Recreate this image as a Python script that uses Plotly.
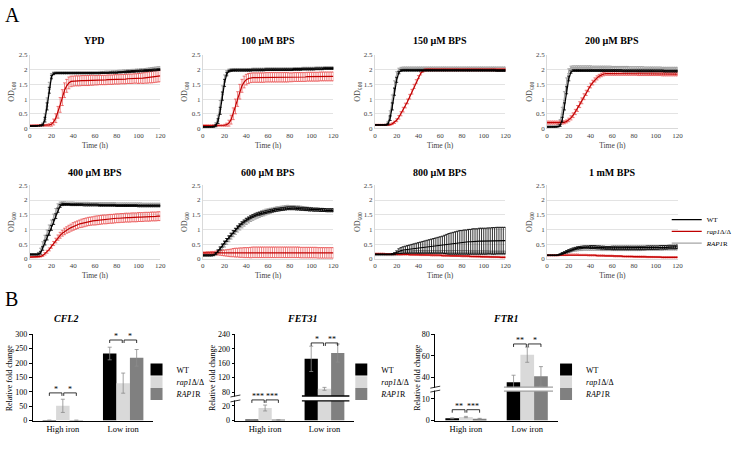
import plotly.graph_objects as go

W, H = 739, 450
FONT = "Liberation Serif"

# ---------------- Growth curves (OD600 vs time) ----------------
T = [0, 2, 4, 6, 8, 10, 12, 14, 16, 18,
     20, 22, 24, 26, 28, 30, 32, 34, 36, 38,
     40, 42, 44, 46, 48, 50, 52, 54, 56, 58,
     60, 62, 64, 66, 68, 70, 72, 74, 76, 78,
     80, 82, 84, 86, 88, 90, 92, 94, 96, 98,
     100, 102, 104, 106, 108, 110, 112, 114, 116, 118,
     120]

PANEL_TITLES = ["YPD", "100 µM BPS", "150 µM BPS", "200 µM BPS",
                "400 µM BPS", "600 µM BPS", "800 µM BPS", "1 mM BPS"]
SERIES_NAMES = ["WT", "<i>rap1</i>Δ/Δ", "<i>RAP1</i>R"]

# YPD
YPD_WT = [0.08,0.08,0.08,0.08,0.09,0.10,0.12,0.30,0.75,1.30,
          1.75,1.86,1.88,1.88,1.88,1.88,1.88,1.88,1.88,1.88,
          1.88,1.88,1.88,1.88,1.88,1.88,1.88,1.88,1.88,1.88,
          1.88,1.88,1.88,1.89,1.89,1.89,1.89,1.90,1.90,1.90,
          1.90,1.91,1.91,1.92,1.92,1.93,1.93,1.94,1.94,1.95,
          1.95,1.96,1.96,1.97,1.97,1.98,1.98,1.99,1.99,2.00,
          2.00]
YPD_WT_SD = [0.01,0.01,0.01,0.01,0.01,0.02,0.03,0.08,0.12,0.10,
             0.06,0.03,0.02,0.02,0.02,0.02,0.02,0.02,0.02,0.02,
             0.02,0.02,0.02,0.02,0.02,0.02,0.02,0.02,0.02,0.02,
             0.02,0.02,0.02,0.02,0.02,0.02,0.02,0.02,0.02,0.02,
             0.02,0.02,0.02,0.02,0.03,0.03,0.03,0.03,0.03,0.03,
             0.03,0.03,0.03,0.03,0.03,0.03,0.03,0.03,0.03,0.03,
             0.03]
YPD_RAP1D = [0.10,0.10,0.10,0.10,0.10,0.10,0.10,0.10,0.11,0.12,
             0.14,0.22,0.35,0.55,0.80,1.05,1.30,1.45,1.55,1.60,
             1.61,1.62,1.62,1.62,1.63,1.63,1.63,1.63,1.64,1.64,
             1.64,1.64,1.65,1.65,1.65,1.65,1.66,1.66,1.66,1.67,
             1.67,1.67,1.68,1.68,1.68,1.69,1.69,1.69,1.70,1.70,
             1.70,1.71,1.71,1.72,1.73,1.74,1.75,1.76,1.77,1.78,
             1.79]
YPD_RAP1D_SD = [0.02,0.02,0.02,0.02,0.02,0.02,0.02,0.02,0.03,0.04,
                0.06,0.10,0.15,0.20,0.25,0.27,0.25,0.22,0.20,0.18,
                0.17,0.17,0.17,0.17,0.17,0.17,0.17,0.17,0.17,0.17,
                0.16,0.16,0.16,0.16,0.16,0.16,0.16,0.16,0.16,0.16,
                0.16,0.16,0.16,0.16,0.16,0.16,0.16,0.16,0.16,0.16,
                0.17,0.17,0.18,0.18,0.19,0.19,0.20,0.20,0.20,0.20,
                0.20]
YPD_RAP1R = [0.08,0.08,0.08,0.08,0.09,0.11,0.15,0.40,0.90,1.45,
             1.80,1.88,1.90,1.90,1.90,1.90,1.90,1.90,1.90,1.90,
             1.90,1.90,1.90,1.90,1.90,1.90,1.90,1.90,1.90,1.90,
             1.90,1.90,1.91,1.91,1.91,1.92,1.92,1.92,1.93,1.93,
             1.93,1.94,1.94,1.95,1.95,1.96,1.96,1.97,1.97,1.98,
             1.98,1.99,1.99,2.00,2.00,2.01,2.02,2.03,2.04,2.05,
             2.05]
YPD_RAP1R_SD = [0.01,0.01,0.01,0.01,0.01,0.02,0.04,0.10,0.14,0.12,
                0.07,0.04,0.03,0.03,0.03,0.03,0.03,0.03,0.03,0.03,
                0.03,0.03,0.03,0.03,0.03,0.03,0.03,0.03,0.03,0.03,
                0.03,0.03,0.03,0.03,0.03,0.03,0.03,0.03,0.03,0.03,
                0.04,0.04,0.04,0.04,0.04,0.04,0.04,0.04,0.04,0.04,
                0.04,0.04,0.04,0.04,0.05,0.05,0.05,0.05,0.05,0.05,
                0.05]

# 100 uM BPS
B100_WT = [0.05,0.05,0.05,0.05,0.05,0.06,0.10,0.25,0.60,1.10,
           1.55,1.85,1.95,1.97,1.98,1.98,1.98,1.98,1.98,1.98,
           1.98,1.98,1.98,1.99,1.99,1.99,1.99,1.99,1.99,2.00,
           2.00,2.00,2.00,2.00,2.00,2.00,2.00,2.00,2.00,2.00,
           2.00,2.00,2.01,2.01,2.01,2.01,2.02,2.02,2.02,2.02,
           2.02,2.02,2.03,2.03,2.03,2.03,2.04,2.04,2.04,2.04,
           2.04]
B100_WT_SD = [0.01,0.01,0.01,0.01,0.01,0.02,0.04,0.08,0.12,0.14,
              0.12,0.06,0.03,0.03,0.03,0.03,0.03,0.03,0.03,0.03,
              0.03,0.03,0.03,0.03,0.03,0.03,0.03,0.03,0.03,0.03,
              0.03,0.03,0.03,0.03,0.03,0.03,0.03,0.03,0.03,0.03,
              0.03,0.03,0.03,0.03,0.03,0.03,0.03,0.03,0.03,0.03,
              0.03,0.03,0.03,0.03,0.03,0.03,0.03,0.03,0.03,0.03,
              0.03]
B100_RAP1D = [0.10,0.10,0.10,0.10,0.10,0.10,0.10,0.10,0.10,0.10,
              0.11,0.13,0.18,0.30,0.50,0.75,1.00,1.25,1.45,1.58,
              1.66,1.70,1.72,1.73,1.73,1.73,1.73,1.73,1.73,1.74,
              1.74,1.74,1.74,1.74,1.74,1.74,1.74,1.74,1.74,1.74,
              1.74,1.74,1.75,1.75,1.75,1.75,1.75,1.75,1.76,1.76,
              1.76,1.76,1.76,1.76,1.77,1.77,1.77,1.77,1.77,1.77,
              1.77]
B100_RAP1D_SD = [0.02,0.02,0.02,0.02,0.02,0.02,0.02,0.02,0.02,0.02,
                 0.03,0.05,0.10,0.15,0.20,0.25,0.25,0.25,0.22,0.20,
                 0.18,0.17,0.16,0.16,0.16,0.16,0.16,0.16,0.16,0.16,
                 0.16,0.16,0.16,0.16,0.16,0.16,0.16,0.16,0.16,0.16,
                 0.15,0.15,0.15,0.15,0.15,0.15,0.15,0.15,0.15,0.15,
                 0.15,0.15,0.15,0.15,0.15,0.15,0.15,0.15,0.15,0.15,
                 0.15]
B100_RAP1R = [0.07,0.07,0.07,0.07,0.07,0.09,0.15,0.35,0.80,1.30,
              1.70,1.90,1.98,2.00,2.00,2.00,2.00,2.00,2.00,2.00,
              2.00,2.00,2.00,2.01,2.01,2.01,2.01,2.01,2.01,2.02,
              2.02,2.02,2.02,2.02,2.02,2.02,2.02,2.02,2.02,2.02,
              2.02,2.02,2.03,2.03,2.03,2.03,2.04,2.04,2.04,2.04,
              2.04,2.04,2.05,2.05,2.05,2.05,2.06,2.06,2.06,2.06,
              2.06]
B100_RAP1R_SD = [0.02,0.02,0.02,0.02,0.02,0.03,0.05,0.10,0.15,0.15,
                 0.12,0.07,0.04,0.04,0.04,0.04,0.04,0.04,0.04,0.04,
                 0.04,0.04,0.04,0.04,0.04,0.04,0.04,0.04,0.04,0.04,
                 0.04,0.04,0.04,0.04,0.04,0.04,0.04,0.04,0.04,0.04,
                 0.04,0.04,0.04,0.04,0.04,0.04,0.04,0.04,0.04,0.04,
                 0.04,0.04,0.04,0.04,0.04,0.04,0.04,0.04,0.04,0.04,
                 0.04]

# 150 uM BPS
B150_WT = [0.12,0.12,0.12,0.12,0.12,0.12,0.15,0.35,0.75,1.25,
           1.65,1.90,1.97,1.98,1.98,1.98,1.98,1.98,1.98,1.98,
           1.98,1.98,1.98,1.98,1.98,1.98,1.98,1.98,1.98,1.98,
           1.98,1.98,1.98,1.98,1.98,1.98,1.98,1.98,1.98,1.98,
           1.98,1.98,1.98,1.98,1.98,1.98,1.98,1.98,1.98,1.98,
           1.98,1.98,1.98,1.98,1.98,1.98,1.97,1.97,1.97,1.97,
           1.97]
B150_WT_SD = [0.01,0.01,0.01,0.01,0.01,0.01,0.03,0.08,0.12,0.12,
              0.08,0.04,0.03,0.03,0.03,0.03,0.03,0.03,0.03,0.03,
              0.03,0.03,0.03,0.03,0.03,0.03,0.03,0.03,0.03,0.03,
              0.03,0.03,0.03,0.03,0.03,0.03,0.03,0.03,0.03,0.03,
              0.03,0.03,0.03,0.03,0.03,0.03,0.03,0.03,0.03,0.03,
              0.03,0.03,0.03,0.03,0.03,0.03,0.03,0.03,0.03,0.03,
              0.03]
B150_RAP1D = [0.12,0.12,0.12,0.12,0.12,0.12,0.12,0.13,0.16,0.21,
              0.28,0.38,0.50,0.64,0.78,0.92,1.08,1.25,1.43,1.60,
              1.75,1.87,1.95,1.99,2.00,2.00,2.00,2.00,2.00,2.00,
              2.00,2.00,2.00,2.00,2.00,2.00,2.00,2.00,2.00,2.00,
              2.00,2.00,2.00,2.00,2.00,2.00,2.00,2.00,2.00,2.00,
              2.00,2.00,2.00,2.00,2.00,2.00,2.00,2.00,2.00,2.00,
              2.00]
B150_RAP1D_SD = [0.02,0.02,0.02,0.02,0.02,0.02,0.02,0.02,0.03,0.04,
                 0.05,0.06,0.07,0.08,0.08,0.08,0.08,0.08,0.07,0.06,
                 0.05,0.05,0.04,0.04,0.04,0.04,0.04,0.04,0.04,0.04,
                 0.04,0.04,0.04,0.04,0.04,0.04,0.04,0.04,0.04,0.04,
                 0.04,0.04,0.04,0.04,0.04,0.04,0.04,0.04,0.04,0.04,
                 0.04,0.04,0.04,0.04,0.04,0.04,0.04,0.04,0.04,0.04,
                 0.04]
B150_RAP1R = [0.12,0.12,0.12,0.12,0.12,0.13,0.20,0.50,1.00,1.50,
              1.85,2.00,2.04,2.05,2.05,2.05,2.05,2.05,2.05,2.05,
              2.05,2.05,2.05,2.05,2.05,2.05,2.05,2.05,2.05,2.05,
              2.05,2.05,2.05,2.05,2.05,2.05,2.05,2.05,2.05,2.05,
              2.05,2.05,2.05,2.05,2.05,2.05,2.05,2.05,2.05,2.05,
              2.05,2.05,2.05,2.05,2.05,2.05,2.05,2.05,2.05,2.05,
              2.05]
B150_RAP1R_SD = [0.01,0.01,0.01,0.01,0.01,0.02,0.04,0.10,0.14,0.12,
                 0.08,0.05,0.04,0.04,0.04,0.04,0.04,0.04,0.04,0.04,
                 0.04,0.04,0.04,0.04,0.04,0.04,0.04,0.04,0.04,0.04,
                 0.04,0.04,0.04,0.04,0.04,0.04,0.04,0.04,0.04,0.04,
                 0.04,0.04,0.04,0.04,0.04,0.04,0.04,0.04,0.04,0.04,
                 0.04,0.04,0.04,0.04,0.04,0.04,0.04,0.04,0.04,0.04,
                 0.04]

# 200 uM BPS
B200_WT = [0.05,0.05,0.05,0.05,0.05,0.06,0.10,0.30,0.75,1.30,
           1.70,1.92,1.97,1.97,1.97,1.97,1.97,1.97,1.97,1.97,
           1.97,1.97,1.97,1.97,1.97,1.97,1.97,1.97,1.97,1.97,
           1.97,1.97,1.97,1.97,1.97,1.96,1.96,1.96,1.96,1.96,
           1.96,1.96,1.96,1.96,1.96,1.96,1.96,1.96,1.96,1.96,
           1.96,1.96,1.96,1.96,1.95,1.95,1.95,1.95,1.95,1.95,
           1.95]
B200_WT_SD = [0.01,0.01,0.01,0.01,0.01,0.01,0.03,0.08,0.12,0.12,
              0.08,0.04,0.03,0.03,0.03,0.03,0.03,0.03,0.03,0.03,
              0.03,0.03,0.03,0.03,0.03,0.03,0.03,0.03,0.03,0.03,
              0.03,0.03,0.03,0.03,0.03,0.03,0.03,0.03,0.03,0.03,
              0.03,0.03,0.03,0.03,0.03,0.03,0.03,0.03,0.03,0.03,
              0.03,0.03,0.03,0.03,0.03,0.03,0.03,0.03,0.03,0.03,
              0.03]
B200_RAP1D = [0.20,0.20,0.20,0.20,0.20,0.20,0.20,0.20,0.21,0.24,
              0.29,0.36,0.45,0.56,0.68,0.81,0.94,1.08,1.21,1.34,
              1.46,1.56,1.65,1.72,1.78,1.82,1.85,1.87,1.87,1.87,
              1.87,1.87,1.87,1.87,1.87,1.87,1.87,1.87,1.87,1.87,
              1.87,1.87,1.86,1.86,1.86,1.86,1.86,1.86,1.86,1.86,
              1.86,1.86,1.86,1.85,1.85,1.85,1.85,1.85,1.85,1.85,
              1.85]
B200_RAP1D_SD = [0.05,0.05,0.05,0.05,0.05,0.05,0.05,0.05,0.05,0.05,
                 0.06,0.07,0.08,0.09,0.10,0.10,0.10,0.10,0.09,0.09,
                 0.08,0.08,0.07,0.07,0.06,0.06,0.06,0.06,0.06,0.06,
                 0.06,0.06,0.06,0.06,0.06,0.06,0.06,0.06,0.06,0.06,
                 0.06,0.06,0.06,0.06,0.06,0.06,0.06,0.06,0.06,0.06,
                 0.06,0.06,0.06,0.06,0.06,0.06,0.06,0.06,0.06,0.06,
                 0.06]
B200_RAP1R = [0.08,0.08,0.08,0.08,0.09,0.12,0.25,0.60,1.10,1.60,
              1.95,2.07,2.08,2.08,2.08,2.08,2.08,2.08,2.08,2.08,
              2.08,2.07,2.07,2.07,2.07,2.07,2.07,2.07,2.07,2.07,
              2.06,2.06,2.06,2.06,2.06,2.06,2.06,2.06,2.05,2.05,
              2.05,2.05,2.05,2.05,2.05,2.04,2.04,2.04,2.04,2.04,
              2.04,2.04,2.04,2.03,2.03,2.03,2.03,2.03,2.03,2.03,
              2.03]
B200_RAP1R_SD = [0.01,0.01,0.01,0.01,0.01,0.02,0.05,0.12,0.15,0.12,
                 0.08,0.05,0.05,0.05,0.05,0.05,0.05,0.05,0.05,0.05,
                 0.05,0.05,0.05,0.05,0.05,0.05,0.05,0.05,0.05,0.05,
                 0.05,0.05,0.05,0.05,0.05,0.05,0.05,0.05,0.05,0.05,
                 0.05,0.05,0.05,0.05,0.05,0.05,0.05,0.05,0.05,0.05,
                 0.05,0.05,0.05,0.05,0.05,0.05,0.05,0.05,0.05,0.05,
                 0.05]

# 400 uM BPS
B400_WT = [0.15,0.15,0.15,0.15,0.16,0.20,0.35,0.55,0.72,0.88,
           1.05,1.25,1.45,1.65,1.80,1.85,1.85,1.85,1.85,1.84,
           1.84,1.84,1.84,1.84,1.84,1.83,1.83,1.83,1.83,1.83,
           1.83,1.83,1.82,1.82,1.82,1.82,1.82,1.82,1.82,1.82,
           1.81,1.81,1.81,1.81,1.81,1.81,1.81,1.81,1.81,1.81,
           1.80,1.80,1.80,1.80,1.80,1.80,1.80,1.80,1.80,1.80,
           1.80]
B400_WT_SD = [0.02,0.02,0.02,0.02,0.03,0.04,0.06,0.08,0.08,0.08,
              0.08,0.08,0.08,0.07,0.05,0.04,0.03,0.03,0.03,0.03,
              0.03,0.03,0.03,0.03,0.03,0.03,0.03,0.03,0.03,0.03,
              0.03,0.03,0.03,0.03,0.03,0.03,0.03,0.03,0.03,0.03,
              0.03,0.03,0.03,0.03,0.03,0.03,0.03,0.03,0.03,0.03,
              0.03,0.03,0.03,0.03,0.03,0.03,0.03,0.03,0.03,0.03,
              0.03]
B400_RAP1D = [0.06,0.06,0.06,0.06,0.07,0.08,0.11,0.17,0.24,0.32,
              0.42,0.52,0.62,0.72,0.80,0.87,0.93,0.98,1.02,1.06,
              1.10,1.13,1.16,1.19,1.21,1.23,1.25,1.27,1.28,1.29,
              1.30,1.31,1.32,1.33,1.34,1.34,1.35,1.36,1.36,1.37,
              1.38,1.38,1.39,1.39,1.40,1.40,1.40,1.41,1.41,1.41,
              1.42,1.42,1.42,1.43,1.43,1.43,1.44,1.44,1.44,1.45,
              1.45]
B400_RAP1D_SD = [0.02,0.02,0.02,0.02,0.02,0.02,0.03,0.04,0.05,0.05,
                 0.06,0.07,0.08,0.09,0.10,0.10,0.11,0.11,0.12,0.12,
                 0.13,0.13,0.13,0.13,0.14,0.14,0.14,0.14,0.14,0.14,
                 0.15,0.15,0.15,0.15,0.15,0.15,0.15,0.15,0.15,0.15,
                 0.15,0.15,0.15,0.15,0.15,0.15,0.15,0.15,0.15,0.15,
                 0.15,0.15,0.15,0.15,0.15,0.15,0.15,0.15,0.15,0.15,
                 0.15]
B400_RAP1R = [0.12,0.12,0.12,0.12,0.18,0.30,0.50,0.70,0.88,1.05,
              1.22,1.42,1.62,1.80,1.88,1.90,1.90,1.89,1.89,1.89,
              1.89,1.88,1.88,1.88,1.88,1.88,1.88,1.88,1.87,1.87,
              1.87,1.87,1.87,1.87,1.87,1.87,1.87,1.87,1.87,1.87,
              1.86,1.86,1.86,1.86,1.86,1.86,1.86,1.86,1.86,1.86,
              1.86,1.86,1.85,1.85,1.85,1.85,1.85,1.85,1.85,1.85,
              1.85]
B400_RAP1R_SD = [0.02,0.02,0.02,0.02,0.04,0.06,0.08,0.10,0.10,0.10,
                 0.10,0.10,0.09,0.07,0.05,0.04,0.04,0.04,0.04,0.04,
                 0.04,0.04,0.04,0.04,0.04,0.04,0.04,0.04,0.04,0.04,
                 0.04,0.04,0.04,0.04,0.04,0.04,0.04,0.04,0.04,0.04,
                 0.04,0.04,0.04,0.04,0.04,0.04,0.04,0.04,0.04,0.04,
                 0.04,0.04,0.04,0.04,0.04,0.04,0.04,0.04,0.04,0.04,
                 0.04]

# 600 uM BPS
B600_WT = [0.12,0.12,0.12,0.12,0.12,0.13,0.18,0.26,0.35,0.45,
           0.55,0.64,0.73,0.82,0.91,0.99,1.07,1.14,1.21,1.27,
           1.33,1.37,1.41,1.45,1.48,1.51,1.53,1.55,1.57,1.59,
           1.61,1.63,1.64,1.66,1.67,1.68,1.69,1.70,1.71,1.72,
           1.72,1.72,1.72,1.71,1.71,1.70,1.70,1.69,1.69,1.68,
           1.68,1.67,1.67,1.67,1.66,1.66,1.66,1.65,1.65,1.65,
           1.65]
B600_WT_SD = [0.02,0.02,0.02,0.02,0.02,0.02,0.03,0.04,0.05,0.05,
              0.05,0.05,0.05,0.05,0.05,0.05,0.05,0.05,0.05,0.05,
              0.05,0.05,0.05,0.05,0.05,0.05,0.05,0.05,0.05,0.05,
              0.05,0.05,0.05,0.05,0.05,0.05,0.05,0.05,0.05,0.05,
              0.05,0.05,0.05,0.05,0.05,0.05,0.05,0.05,0.05,0.05,
              0.05,0.05,0.05,0.05,0.05,0.05,0.05,0.05,0.05,0.05,
              0.05]
B600_RAP1D = [0.20,0.20,0.20,0.20,0.20,0.20,0.20,0.20,0.20,0.20,
              0.20,0.20,0.20,0.20,0.21,0.21,0.21,0.21,0.21,0.21,
              0.21,0.21,0.21,0.22,0.22,0.22,0.22,0.22,0.22,0.22,
              0.22,0.22,0.22,0.22,0.22,0.22,0.22,0.22,0.22,0.22,
              0.22,0.22,0.22,0.22,0.22,0.21,0.21,0.21,0.21,0.21,
              0.21,0.21,0.21,0.20,0.20,0.20,0.20,0.20,0.20,0.20,
              0.20]
B600_RAP1D_SD = [0.03,0.03,0.04,0.04,0.05,0.05,0.06,0.07,0.08,0.09,
                 0.10,0.11,0.12,0.13,0.14,0.15,0.15,0.16,0.16,0.17,
                 0.17,0.17,0.18,0.18,0.18,0.18,0.18,0.18,0.18,0.18,
                 0.18,0.18,0.18,0.18,0.18,0.18,0.18,0.18,0.18,0.18,
                 0.18,0.18,0.18,0.18,0.18,0.18,0.18,0.18,0.18,0.18,
                 0.18,0.18,0.18,0.18,0.18,0.18,0.18,0.18,0.18,0.18,
                 0.18]
B600_RAP1R = [0.10,0.10,0.10,0.10,0.11,0.13,0.17,0.24,0.32,0.41,
              0.50,0.59,0.68,0.77,0.85,0.93,1.01,1.08,1.15,1.21,
              1.27,1.32,1.37,1.41,1.45,1.48,1.51,1.54,1.56,1.59,
              1.61,1.63,1.65,1.67,1.69,1.70,1.72,1.73,1.74,1.75,
              1.75,1.75,1.75,1.74,1.74,1.73,1.72,1.71,1.70,1.69,
              1.69,1.68,1.68,1.67,1.67,1.67,1.66,1.66,1.66,1.66,
              1.66]
B600_RAP1R_SD = [0.02,0.02,0.02,0.02,0.02,0.03,0.05,0.07,0.09,0.10,
                 0.10,0.10,0.10,0.10,0.10,0.10,0.10,0.10,0.10,0.10,
                 0.10,0.10,0.10,0.10,0.10,0.10,0.10,0.10,0.10,0.10,
                 0.09,0.09,0.08,0.08,0.08,0.07,0.07,0.07,0.07,0.07,
                 0.06,0.06,0.06,0.06,0.06,0.06,0.06,0.06,0.06,0.06,
                 0.05,0.05,0.05,0.05,0.05,0.05,0.05,0.05,0.05,0.05,
                 0.05]

# 800 uM BPS
B800_WT = [0.15,0.15,0.15,0.15,0.15,0.15,0.15,0.15,0.16,0.18,
           0.22,0.26,0.28,0.30,0.31,0.32,0.33,0.34,0.35,0.36,
           0.37,0.38,0.39,0.40,0.41,0.42,0.43,0.44,0.45,0.46,
           0.47,0.48,0.49,0.50,0.51,0.52,0.53,0.54,0.55,0.56,
           0.56,0.57,0.57,0.58,0.58,0.59,0.59,0.59,0.60,0.60,
           0.60,0.60,0.61,0.61,0.61,0.61,0.62,0.62,0.62,0.62,
           0.62]
B800_WT_SD = [0.01,0.01,0.01,0.01,0.01,0.01,0.01,0.01,0.02,0.03,
              0.05,0.08,0.10,0.11,0.12,0.13,0.14,0.15,0.16,0.17,
              0.18,0.19,0.20,0.21,0.22,0.23,0.24,0.25,0.26,0.27,
              0.28,0.29,0.31,0.33,0.35,0.36,0.37,0.38,0.39,0.40,
              0.40,0.41,0.41,0.42,0.42,0.43,0.43,0.43,0.44,0.44,
              0.44,0.44,0.44,0.44,0.45,0.45,0.45,0.45,0.45,0.45,
              0.45]
B800_RAP1D = [0.17,0.17,0.17,0.17,0.17,0.16,0.16,0.16,0.16,0.16,
              0.16,0.15,0.15,0.15,0.15,0.15,0.14,0.14,0.14,0.14,
              0.14,0.13,0.13,0.13,0.13,0.13,0.12,0.12,0.12,0.12,
              0.12,0.11,0.11,0.11,0.11,0.10,0.10,0.10,0.10,0.10,
              0.09,0.09,0.09,0.09,0.08,0.08,0.08,0.08,0.08,0.07,
              0.07,0.07,0.07,0.06,0.06,0.06,0.06,0.06,0.05,0.05,
              0.05]
B800_RAP1D_SD = [0.02,0.02,0.02,0.02,0.02,0.02,0.02,0.02,0.02,0.02,
                 0.02,0.02,0.02,0.02,0.02,0.02,0.02,0.02,0.02,0.02,
                 0.02,0.02,0.02,0.02,0.02,0.02,0.02,0.02,0.02,0.02,
                 0.02,0.02,0.02,0.02,0.02,0.02,0.02,0.02,0.02,0.02,
                 0.02,0.02,0.02,0.02,0.02,0.02,0.02,0.02,0.02,0.02,
                 0.02,0.02,0.02,0.02,0.02,0.02,0.02,0.02,0.02,0.02,
                 0.02]
B800_RAP1R = [0.13,0.13,0.13,0.13,0.13,0.13,0.13,0.13,0.13,0.14,
              0.16,0.18,0.19,0.20,0.20,0.21,0.21,0.21,0.22,0.22,
              0.22,0.22,0.22,0.22,0.22,0.22,0.22,0.22,0.22,0.22,
              0.22,0.22,0.22,0.22,0.22,0.22,0.22,0.22,0.22,0.22,
              0.22,0.22,0.22,0.21,0.21,0.21,0.21,0.21,0.21,0.21,
              0.21,0.21,0.21,0.20,0.20,0.20,0.20,0.20,0.20,0.20,
              0.20]
B800_RAP1R_SD = [0.02,0.02,0.02,0.02,0.02,0.02,0.02,0.02,0.02,0.03,
                 0.04,0.05,0.06,0.06,0.06,0.06,0.06,0.06,0.06,0.06,
                 0.06,0.06,0.06,0.06,0.06,0.06,0.06,0.06,0.06,0.06,
                 0.06,0.06,0.06,0.06,0.06,0.06,0.06,0.06,0.06,0.06,
                 0.06,0.06,0.06,0.06,0.06,0.06,0.06,0.06,0.06,0.06,
                 0.06,0.06,0.06,0.06,0.06,0.06,0.06,0.06,0.06,0.06,
                 0.06]

# 1 mM BPS
B1000_WT = [0.12,0.12,0.12,0.12,0.12,0.13,0.15,0.18,0.21,0.24,
            0.27,0.30,0.33,0.35,0.37,0.38,0.39,0.40,0.40,0.40,
            0.40,0.40,0.40,0.39,0.39,0.38,0.38,0.37,0.37,0.37,
            0.37,0.37,0.37,0.37,0.37,0.37,0.37,0.37,0.37,0.37,
            0.37,0.37,0.37,0.37,0.37,0.37,0.38,0.38,0.38,0.38,
            0.38,0.38,0.39,0.39,0.39,0.39,0.40,0.40,0.40,0.40,
            0.41]
B1000_WT_SD = [0.01,0.01,0.01,0.01,0.01,0.01,0.02,0.03,0.03,0.04,
               0.04,0.04,0.04,0.04,0.04,0.04,0.04,0.04,0.04,0.04,
               0.05,0.05,0.05,0.05,0.05,0.05,0.05,0.05,0.05,0.05,
               0.06,0.06,0.06,0.06,0.06,0.06,0.06,0.06,0.06,0.06,
               0.06,0.06,0.06,0.06,0.06,0.06,0.06,0.06,0.06,0.06,
               0.06,0.06,0.06,0.06,0.06,0.06,0.06,0.06,0.06,0.06,
               0.06]
B1000_RAP1D = [0.12,0.12,0.12,0.12,0.12,0.12,0.13,0.13,0.13,0.13,
               0.14,0.14,0.14,0.14,0.14,0.13,0.13,0.13,0.13,0.12,
               0.12,0.12,0.12,0.11,0.11,0.11,0.11,0.10,0.10,0.10,
               0.10,0.09,0.09,0.09,0.09,0.08,0.08,0.08,0.08,0.08,
               0.07,0.07,0.07,0.07,0.07,0.07,0.06,0.06,0.06,0.06,
               0.06,0.06,0.06,0.05,0.05,0.05,0.05,0.05,0.05,0.05,
               0.05]
B1000_RAP1D_SD = [0.02,0.02,0.02,0.02,0.02,0.02,0.02,0.02,0.02,0.02,
                  0.02,0.02,0.02,0.02,0.02,0.02,0.02,0.02,0.02,0.02,
                  0.02,0.02,0.02,0.02,0.02,0.02,0.02,0.02,0.02,0.02,
                  0.02,0.02,0.02,0.02,0.02,0.02,0.02,0.02,0.02,0.02,
                  0.02,0.02,0.02,0.02,0.02,0.02,0.02,0.02,0.02,0.02,
                  0.02,0.02,0.02,0.02,0.02,0.02,0.02,0.02,0.02,0.02,
                  0.02]
B1000_RAP1R = [0.12,0.12,0.12,0.12,0.12,0.12,0.14,0.17,0.20,0.23,
               0.26,0.28,0.30,0.31,0.32,0.33,0.33,0.34,0.34,0.34,
               0.34,0.34,0.34,0.34,0.34,0.33,0.33,0.33,0.33,0.33,
               0.33,0.33,0.33,0.33,0.33,0.33,0.33,0.33,0.33,0.33,
               0.33,0.33,0.33,0.33,0.34,0.34,0.34,0.34,0.34,0.34,
               0.34,0.34,0.34,0.34,0.35,0.35,0.35,0.35,0.35,0.35,
               0.35]
B1000_RAP1R_SD = [0.01,0.01,0.01,0.01,0.01,0.01,0.02,0.03,0.04,0.04,
                  0.05,0.05,0.05,0.05,0.05,0.05,0.05,0.05,0.05,0.05,
                  0.05,0.05,0.05,0.05,0.05,0.05,0.05,0.05,0.05,0.05,
                  0.05,0.05,0.05,0.05,0.05,0.05,0.05,0.05,0.05,0.05,
                  0.05,0.05,0.05,0.05,0.05,0.05,0.05,0.05,0.05,0.05,
                  0.05,0.05,0.05,0.05,0.05,0.05,0.05,0.05,0.05,0.05,
                  0.05]

# ---------------- qRT-PCR bar data ----------------
CATS = ["High iron", "Low iron"]
CFL2_WT = [0.8, 233];   CFL2_WT_SD = [0.2, 22]
CFL2_RAP1D = [51, 130]; CFL2_RAP1D_SD = [23, 35]
CFL2_RAP1R = [0.8, 218]; CFL2_RAP1R_SD = [0.2, 29]
FET31_WT = [0.8, 172];  FET31_WT_SD = [0.2, 35]
FET31_RAP1D = [17, 89]; FET31_RAP1D_SD = [4, 4]
FET31_RAP1R = [0.6, 188]; FET31_RAP1R_SD = [0.2, 25]
FTR1_WT = [1.0, 35.5];  FTR1_WT_SD = [0.2, 6.5]
FTR1_RAP1D = [1.6, 61]; FTR1_RAP1D_SD = [0.3, 7]
FTR1_RAP1R = [0.8, 41]; FTR1_RAP1R_SD = [0.2, 9]

# significance brackets: y level per category, stars (WT vs rap1, rap1 vs RAP1R)
CFL2_SIG_Y = [96, 280];  CFL2_SIG = [["*", "*"], ["*", "*"]]
FET31_SIG_Y = [28, 216]; FET31_SIG = [["***", "***"], ["*", "**"]]
FTR1_SIG_Y = [5, 71];    FTR1_SIG = [["**", "***"], ["**", "*"]]

# ---------------- figure construction ----------------
LINE_COLORS = ["#000000", "#c00000", "#a6a6a6"]
ERR_COLORS = ["rgba(0,0,0,0.8)", "rgba(232,70,70,0.7)", "rgba(150,150,150,0.85)"]
BAR_COLORS = ["#000000", "#d9d9d9", "#808080"]

panels = [
    (YPD_WT, YPD_WT_SD, YPD_RAP1D, YPD_RAP1D_SD, YPD_RAP1R, YPD_RAP1R_SD),
    (B100_WT, B100_WT_SD, B100_RAP1D, B100_RAP1D_SD, B100_RAP1R, B100_RAP1R_SD),
    (B150_WT, B150_WT_SD, B150_RAP1D, B150_RAP1D_SD, B150_RAP1R, B150_RAP1R_SD),
    (B200_WT, B200_WT_SD, B200_RAP1D, B200_RAP1D_SD, B200_RAP1R, B200_RAP1R_SD),
    (B400_WT, B400_WT_SD, B400_RAP1D, B400_RAP1D_SD, B400_RAP1R, B400_RAP1R_SD),
    (B600_WT, B600_WT_SD, B600_RAP1D, B600_RAP1D_SD, B600_RAP1R, B600_RAP1R_SD),
    (B800_WT, B800_WT_SD, B800_RAP1D, B800_RAP1D_SD, B800_RAP1R, B800_RAP1R_SD),
    (B1000_WT, B1000_WT_SD, B1000_RAP1D, B1000_RAP1D_SD, B1000_RAP1R, B1000_RAP1R_SD),
]


def xdom(a, b):
    return [a / W, b / W]


def ydom(top, bot):
    return [1 - bot / H, 1 - top / H]


def px(xv):
    return xv / W


def py(yv):
    return 1 - yv / H


COLS = [(28, 160), (203, 335), (377, 509), (551, 683)]
ROWS = [(52, 127), (185, 260)]
TITLE_Y = [37, 172]

fig = go.Figure()
layout = dict(
    width=W, height=H, margin=dict(l=0, r=0, t=0, b=0),
    paper_bgcolor="white", plot_bgcolor="white",
    font=dict(family=FONT, color="#000000", size=8),
    showlegend=True, bargap=0.33, bargroupgap=0, barmode="group",
)
annotations = []
shapes = []

LINE_LEG = ["legend", "legend2", "legend3"]
LINE_LEG_Y = [220, 232, 244]

for k, pdata in enumerate(panels):
    n = k + 1
    r, c = divmod(k, 4)
    xa, ya = f"x{n}", f"y{n}"
    layout[f"xaxis{n}"] = dict(
        domain=xdom(*COLS[c]), anchor=ya, range=[0, 120], tick0=0, dtick=20,
        showgrid=False, zeroline=False, showline=True, linecolor="#d9d9d9", linewidth=0.8,
        ticks="", tickfont=dict(family=FONT, size=7, color="#404040"),
        title=dict(text="Time (h)", font=dict(family=FONT, size=7.5, color="#404040"), standoff=3),
    )
    layout[f"yaxis{n}"] = dict(
        domain=ydom(*ROWS[r]), anchor=xa, range=[0, 2.5], tick0=0, dtick=0.5,
        showgrid=True, gridcolor="#e3e3e3", gridwidth=0.8, zeroline=False,
        showline=True, linecolor="#d9d9d9", linewidth=0.8,
        ticks="", tickfont=dict(family=FONT, size=7, color="#404040"),
        title=dict(text="OD₆₀₀", font=dict(family=FONT, size=8, color="#404040"), standoff=2),
    )
    annotations.append(dict(text=f"<b>{PANEL_TITLES[k]}</b>", x=px((COLS[c][0] + COLS[c][1]) / 2),
                            y=py(TITLE_Y[r]), xref="paper", yref="paper", showarrow=False,
                            xanchor="center", yanchor="middle", font=dict(family=FONT, size=10)))
    means = [pdata[0], pdata[2], pdata[4]]
    sds = [pdata[1], pdata[3], pdata[5]]
    for s in [2, 1, 0]:
        fig.add_trace(go.Scatter(
            x=T, y=means[s], mode="lines", name=SERIES_NAMES[s],
            line=dict(color=LINE_COLORS[s], width=1.2),
            error_y=dict(type="data", array=sds[s], visible=True, color=ERR_COLORS[s],
                         thickness=1.0, width=1.5),
            xaxis=xa, yaxis=ya, showlegend=(n == 8), legend=LINE_LEG[s],
            hoverinfo="skip",
        ))

for s in range(3):
    layout[LINE_LEG[s]] = dict(x=px(672), y=py(LINE_LEG_Y[s]), xanchor="left", yanchor="middle",
                               bgcolor="rgba(0,0,0,0)", borderwidth=0,
                               font=dict(family=FONT, size=7, color="#000000"))

# ---------------- bar charts ----------------
BAR_Y = (337, 425)
BW = (1 - 0.33) / 3


def add_bar_set(xa, ya, vals, sds, legends, show):
    for s in range(3):
        fig.add_trace(go.Bar(
            x=CATS, y=vals[s], name=SERIES_NAMES[s], marker=dict(color=BAR_COLORS[s], line=dict(width=0)),
            error_y=dict(type="data", array=sds[s], visible=True, color="#8c8c8c", thickness=0.8, width=2),
            xaxis=xa, yaxis=ya, showlegend=show, legend=legends[s] if show else None,
            hoverinfo="skip",
        ))


def bar_xaxis(dom, anchor, visible=True):
    return dict(domain=dom, anchor=anchor, type="category", range=[-0.5, 1.5],
                showline=visible, linecolor="#000000", linewidth=0.8, ticks="",
                showticklabels=visible, tickfont=dict(family=FONT, size=8.5), showgrid=False,
                zeroline=False, visible=visible)


def bar_yaxis(dom, anchor, rng, tickvals):
    return dict(domain=dom, anchor=anchor, range=rng, tickvals=tickvals, showgrid=False,
                zeroline=False, showline=True, linecolor="#000000", linewidth=0.8,
                ticks="outside", ticklen=3, tickwidth=0.8, tickcolor="#000000",
                tickfont=dict(family=FONT, size=8))


def brackets(xref, yref, ci, yval, stars):
    for side in range(2):
        if side == 0:
            x0, x1 = ci - BW, ci - 0.015
        else:
            x0, x1 = ci + 0.015, ci + BW
        for (a, b, c, d) in [(x0, x1, 0, 0), (x0, x0, -3, 0), (x1, x1, -3, 0)]:
            shapes.append(dict(type="line", xref=xref, yref=yref, ysizemode="pixel",
                               yanchor=yval, x0=a, x1=b, y0=c, y1=d,
                               line=dict(color="#000000", width=0.8)))
        annotations.append(dict(text=stars[side], x=(x0 + x1) / 2, y=yval, xref=xref,
                                yref=yref, showarrow=False, xanchor="center", yanchor="bottom",
                                yshift=-3, font=dict(family=FONT, size=8)))


# CFL2
layout["xaxis9"] = bar_xaxis(xdom(31, 153), "y9")
layout["yaxis9"] = bar_yaxis(ydom(*BAR_Y), "x9", [0, 300], [0, 50, 100, 150, 200, 250, 300])
add_bar_set("x9", "y9", [CFL2_WT, CFL2_RAP1D, CFL2_RAP1R],
            [CFL2_WT_SD, CFL2_RAP1D_SD, CFL2_RAP1R_SD], ["legend4", "legend5", "legend6"], True)
brackets("x9", "y9", 0, CFL2_SIG_Y[0], CFL2_SIG[0])
brackets("x9", "y9", 1, CFL2_SIG_Y[1], CFL2_SIG[1])

# FET31 (broken axis: lower + upper)
layout["xaxis10"] = bar_xaxis(xdom(236, 356), "y10")
layout["yaxis10"] = bar_yaxis(ydom(402.5, 425), "x10", [0, 30], [0, 20])
layout["xaxis11"] = bar_xaxis(xdom(236, 356), "y11", visible=False)
layout["yaxis11"] = bar_yaxis(ydom(337, 402.5), "x11", [62.4, 240], [80, 120, 160, 200, 240])
fet_vals = [FET31_WT, FET31_RAP1D, FET31_RAP1R]
fet_sds = [FET31_WT_SD, FET31_RAP1D_SD, FET31_RAP1R_SD]
add_bar_set("x10", "y10", fet_vals, fet_sds, ["legend7", "legend8", "legend9"], True)
add_bar_set("x11", "y11", fet_vals, fet_sds, None, False)
brackets("x10", "y10", 0, FET31_SIG_Y[0], FET31_SIG[0])
brackets("x11", "y11", 1, FET31_SIG_Y[1], FET31_SIG[1])

# FTR1 (broken axis)
layout["xaxis12"] = bar_xaxis(xdom(438, 562), "y12")
layout["yaxis12"] = bar_yaxis(ydom(393, 425), "x12", [0, 14.5], [0, 10])
layout["xaxis13"] = bar_xaxis(xdom(438, 562), "y13", visible=False)
layout["yaxis13"] = bar_yaxis(ydom(337, 393), "x13", [29.1, 80], [40, 60, 80])
ftr_vals = [FTR1_WT, FTR1_RAP1D, FTR1_RAP1R]
ftr_sds = [FTR1_WT_SD, FTR1_RAP1D_SD, FTR1_RAP1R_SD]
add_bar_set("x12", "y12", ftr_vals, ftr_sds, ["legend10", "legend11", "legend12"], True)
add_bar_set("x13", "y13", ftr_vals, ftr_sds, None, False)
brackets("x12", "y12", 0, FTR1_SIG_Y[0], FTR1_SIG[0])
brackets("x13", "y13", 1, FTR1_SIG_Y[1], FTR1_SIG[1])

# break marks across the low-iron bars and on the y axes
for xref, (b0, b1), col, axx in [("x10", (400, 405), "#000000", 236), ("x12", (391, 395), "#a0a0a0", 438)]:
    shapes.append(dict(type="rect", xref=xref, yref="paper", x0=1 - 0.38, x1=1 + 0.42,
                       y0=py(b1), y1=py(b0), fillcolor="white", line=dict(width=0)))
    for yy in (b0, b1):
        shapes.append(dict(type="line", xref=xref, yref="paper", x0=1 - 0.38, x1=1 + 0.42,
                           y0=py(yy), y1=py(yy), line=dict(color=col, width=1.3)))
    shapes.append(dict(type="rect", xref="paper", yref="paper", x0=px(axx - 2), x1=px(axx + 2),
                       y0=py(b1 - 0.5), y1=py(b0 + 0.5), fillcolor="white", line=dict(width=0)))
    for yy in (b0, b1):
        shapes.append(dict(type="line", xref="paper", yref="paper", x0=px(axx - 5), x1=px(axx + 5),
                           y0=py(yy + 1), y1=py(yy - 1), line=dict(color="#000000", width=0.8)))

# bar legends
BAR_LEG_X = [136, 343, 550]
BAR_LEG_Y = [373, 386, 398]
for g in range(3):
    for s in range(3):
        layout[f"legend{4 + 3 * g + s}"] = dict(
            x=px(BAR_LEG_X[g]), y=py(BAR_LEG_Y[s]), xanchor="left", yanchor="middle",
            bgcolor="rgba(0,0,0,0)", borderwidth=0, font=dict(family=FONT, size=8, color="#000000"))

# bar titles, y-axis titles
for txt, xc in [("CFL2", 65), ("FET31", 303), ("FTR1", 509)]:
    annotations.append(dict(text=f"<b><i>{txt}</i></b>", x=px(xc), y=py(321), xref="paper", yref="paper",
                            showarrow=False, xanchor="center", yanchor="middle",
                            font=dict(family=FONT, size=10)))
for xc in [7, 213, 420]:
    annotations.append(dict(text="Relative fold change", x=px(xc), y=py(381), xref="paper", yref="paper",
                            showarrow=False, textangle=-90, xanchor="center", yanchor="middle",
                            font=dict(family=FONT, size=8)))

# panel letters
annotations.append(dict(text="A", x=px(1), y=py(11), xref="paper", yref="paper", showarrow=False,
                        xanchor="left", yanchor="middle", font=dict(family=FONT, size=20)))
annotations.append(dict(text="B", x=px(1), y=py(301), xref="paper", yref="paper", showarrow=False,
                        xanchor="left", yanchor="middle", font=dict(family=FONT, size=20)))

layout["annotations"] = annotations
layout["shapes"] = shapes
fig.update_layout(**layout)
fig.write_html("out.html")
